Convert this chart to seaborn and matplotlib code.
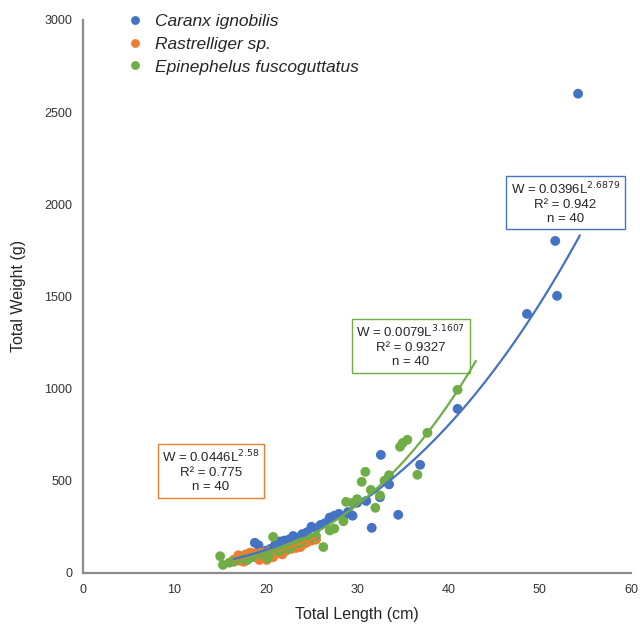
import numpy as np
import pandas as pd
import seaborn as sns
import matplotlib.pyplot as plt

# Caranx ignobilis
caranx_len = [16.5, 17.5, 18.0, 18.8, 19.2, 19.5, 20.0, 20.5, 21.0, 21.5,
              22.0, 22.5, 23.0, 23.5, 24.0, 24.5, 25.0, 25.5, 26.0, 26.5,
              27.0, 27.5, 28.0, 28.5, 29.0, 29.5, 30.0, 31.0, 31.6, 32.5,
              32.6, 33.5, 34.5, 36.9, 41.0, 48.6, 51.7, 51.9, 54.2, 22.0]
caranx_wt = [70, 90, 100, 163, 150, 100, 120, 130, 150, 170,
             175, 180, 200, 190, 210, 220, 250, 240, 260, 270,
             300, 310, 320, 300, 330, 310, 380, 390, 244, 410,
             640, 480, 315, 586, 890, 1405, 1801, 1503, 2600, 160]

# Rastrelliger sp.
rastr_len = [16.5, 17.0, 17.2, 17.5, 17.8, 18.0, 18.2, 18.5, 18.7, 19.0,
             19.2, 19.5, 19.7, 20.0, 20.1, 20.3, 20.5, 20.7, 21.0, 21.2,
             21.5, 21.7, 22.0, 22.2, 22.5, 22.8, 23.0, 23.3, 23.5, 23.8,
             24.0, 24.3, 24.5, 25.0, 25.5, 19.3, 20.8, 18.3, 21.8, 17.6]
rastr_wt = [70, 95, 65, 80, 100, 75, 90, 85, 105, 95,
            80, 110, 100, 90, 70, 115, 110, 95, 120, 105,
            125, 115, 130, 120, 140, 130, 145, 135, 150, 140,
            155, 160, 165, 175, 180, 70, 85, 110, 100, 60]

# Epinephelus fuscoguttatus
epin_len = [15.0, 15.3, 16.0, 16.5, 17.5, 18.0, 18.5, 19.5, 20.0, 20.5,
            20.8, 21.5, 22.0, 22.5, 23.0, 23.5, 24.0, 25.0, 25.5, 26.3,
            27.0, 27.5, 28.5, 28.8, 29.5, 30.0, 30.5, 30.9, 31.5, 32.0,
            32.5, 33.0, 33.5, 34.7, 35.0, 35.5, 36.6, 37.7, 41.0, 20.2]
epin_wt = [90, 43, 55, 60, 75, 70, 85, 100, 95, 110,
           195, 120, 140, 130, 150, 160, 170, 190, 200, 140,
           230, 240, 280, 385, 380, 400, 494, 548, 450, 353,
           420, 500, 530, 684, 705, 722, 532, 760, 993, 80]

species = ["Caranx ignobilis", "Rastrelliger sp.", "Epinephelus fuscoguttatus"]
colors = ["#4472C4", "#ED7D31", "#70AD47"]

# fitted power curves W = a * L^b, with the length range each line covers
fit_a = [0.0396, 0.0446, 0.0079]
fit_b = [2.6879, 2.58, 3.1607]
fit_range = [(16.5, 54.4), (16.5, 25.5), (15.0, 43.0)]
fit_text = [r"W = 0.0396L$^{2.6879}$" + "\nR² = 0.942\nn = 40",
            r"W = 0.0446L$^{2.58}$" + "\nR² = 0.775\nn = 40",
            r"W = 0.0079L$^{3.1607}$" + "\nR² = 0.9327\nn = 40"]
fit_pos = [(52.8, 2008), (14.0, 553), (35.9, 1232)]

df = pd.DataFrame({
    "length": caranx_len + rastr_len + epin_len,
    "weight": caranx_wt + rastr_wt + epin_wt,
    "species": [species[0]] * 40 + [species[1]] * 40 + [species[2]] * 40,
})

sns.set_style("white")
plt.rcParams["font.family"] = ["Liberation Sans", "DejaVu Sans"]

fig = plt.figure(figsize=(6.4, 6.24), dpi=100)
ax = fig.add_axes([0.130, 0.082, 0.856, 0.886])

sns.scatterplot(data=df, x="length", y="weight", hue="species",
                palette=colors, s=50, edgecolor="none", ax=ax, zorder=3)

for a, b, (lo, hi), c, txt, (tx, ty) in zip(fit_a, fit_b, fit_range, colors, fit_text, fit_pos):
    L = np.linspace(lo, hi, 100)
    ax.plot(L, a * L ** b, color=c, lw=1.6, zorder=4)
    ax.text(tx, ty, txt, ha="center", va="center", fontsize=9.5,
            linespacing=1.2,
            bbox=dict(boxstyle="square,pad=0.35", fc="white", ec=c, lw=1))

ax.set_xlim(0, 60)
ax.set_ylim(0, 3000)
ax.set_xticks(range(0, 61, 10))
ax.set_yticks(range(0, 3001, 500))
ax.set_xlabel("Total Length (cm)", fontsize=11.5)
ax.set_ylabel("Total Weight (g)", fontsize=11.5)
ax.xaxis.set_label_coords(0.5, -0.062)
ax.yaxis.set_label_coords(-0.105, 0.5)

sns.despine(ax=ax)
for sp in ["left", "bottom"]:
    ax.spines[sp].set_color("#8c8c8c")
    ax.spines[sp].set_linewidth(1.6)
ax.tick_params(direction="inout", length=6, width=1, color="#555555",
               labelsize=9, labelcolor="#333333", pad=5)

leg = ax.legend(loc="upper left", bbox_to_anchor=(0.035, 1.04), frameon=False,
                fontsize=12.5, handletextpad=0.15, labelspacing=0.45,
                markerscale=0.9)
for t in leg.get_texts():
    t.set_fontstyle("italic")

fig.savefig("out.png", dpi=100)
